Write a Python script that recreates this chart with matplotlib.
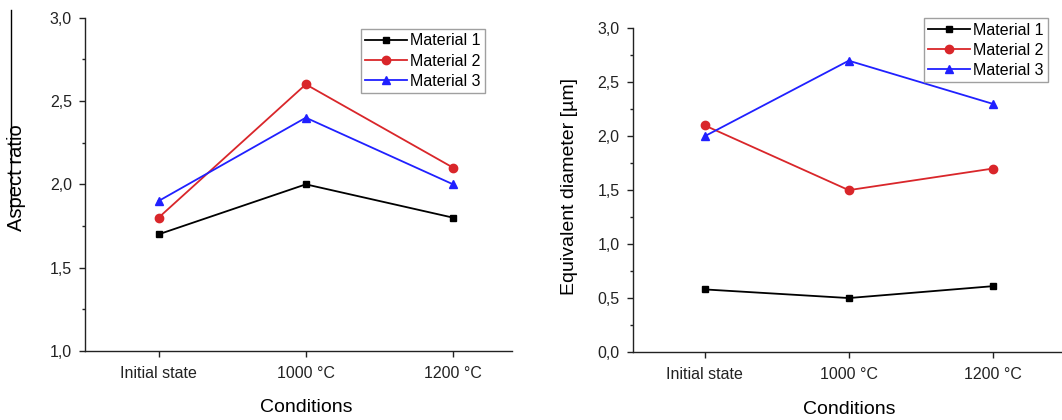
import numpy as np
import matplotlib
matplotlib.use("Agg")
import matplotlib.pyplot as plt
from matplotlib.lines import Line2D
from matplotlib.ticker import MultipleLocator, FuncFormatter

plt.rcParams['font.family'] = ['Liberation Sans', 'DejaVu Sans']

conditions = ["Initial state", "1000 °C", "1200 °C"]
materials = ["Material 1", "Material 2", "Material 3"]

# aspect ratio (left panel)
aspect_m1 = [1.7, 2.0, 1.8]
aspect_m2 = [1.8, 2.6, 2.1]
aspect_m3 = [1.9, 2.4, 2.0]

# equivalent diameter in um (right panel)
diam_m1 = [0.58, 0.50, 0.61]
diam_m2 = [2.1, 1.5, 1.7]
diam_m3 = [2.0, 2.7, 2.3]

colors = ["black", "#d9262a", "#2020ff"]
markers = ["s", "o", "^"]
msizes = [5, 6, 6]


def comma_fmt(v, pos):
    return ("%.1f" % v).replace(".", ",")


def style_axis(ax, ylim, xlim):
    ax.set_xlim(*xlim)
    ax.set_ylim(*ylim)
    for s in ["top", "right"]:
        ax.spines[s].set_visible(False)
    for s in ["left", "bottom"]:
        ax.spines[s].set_linewidth(1.0)
        ax.spines[s].set_color("#222222")
    ax.set_xticks(range(len(conditions)))
    ax.set_xticklabels(conditions)
    ax.yaxis.set_major_locator(MultipleLocator(0.5))
    ax.yaxis.set_minor_locator(MultipleLocator(0.25))
    ax.yaxis.set_major_formatter(FuncFormatter(comma_fmt))
    ax.tick_params(axis="both", which="major", direction="out", length=4.5,
                   width=1.0, labelsize=11.5, colors="#222222", labelcolor="#222222")
    ax.tick_params(axis="y", which="major", pad=5)
    ax.tick_params(axis="x", which="major", pad=6)
    ax.tick_params(axis="y", which="minor", direction="out", length=2.5, width=1.0,
                   colors="#222222")
    ax.tick_params(axis="x", which="minor", bottom=False)


def draw_series(ax, series):
    for vals, c, m, ms, lab in zip(series, colors, markers, msizes, materials):
        ax.plot(range(len(conditions)), vals, color=c, marker=m, markersize=ms,
                linewidth=1.3, label=lab, clip_on=False)


fig = plt.figure(figsize=(10.62, 4.2), dpi=100)

ax1 = fig.add_axes([0.0800, 0.1643, 0.4021, 0.7936])
draw_series(ax1, [aspect_m1, aspect_m2, aspect_m3])
style_axis(ax1, (1.0, 3.0), (-0.5, 2.4))
ax1.set_ylabel("Aspect ratio", fontsize=14.5)
ax1.yaxis.set_label_coords(-0.138, 0.52)
ax1.set_xlabel("Conditions", fontsize=14)
ax1.xaxis.set_label_coords(0.518, -0.145)

ax2 = fig.add_axes([0.5958, 0.1619, 0.4068, 0.7707])
draw_series(ax2, [diam_m1, diam_m2, diam_m3])
style_axis(ax2, (0.0, 3.0), (-0.5, 2.5))
ax2.set_ylabel("Equivalent diameter [µm]", fontsize=14)
ax2.yaxis.set_label_coords(-0.127, 0.51)
ax2.set_xlabel("Conditions", fontsize=14)
ax2.xaxis.set_label_coords(0.5, -0.15)

leg_kw = dict(loc="upper left", fontsize=11.5, frameon=True, fancybox=False,
              borderaxespad=0, handlelength=2.6, handletextpad=0.2,
              labelspacing=0.32, borderpad=0.28, edgecolor="#888888",
              bbox_transform=fig.transFigure)
l1 = ax1.legend(bbox_to_anchor=(0.3399, 0.931), **leg_kw)
l2 = ax2.legend(bbox_to_anchor=(0.8698, 0.9564), **leg_kw)
for lg in (l1, l2):
    lg.get_frame().set_linewidth(1.0)

# thin vertical stroke seen at the left edge of the original
fig.add_artist(Line2D([0.0104, 0.0104], [0.976, 0.5], color="black",
                      linewidth=1.0, transform=fig.transFigure))

fig.savefig("out.png", dpi=100)
